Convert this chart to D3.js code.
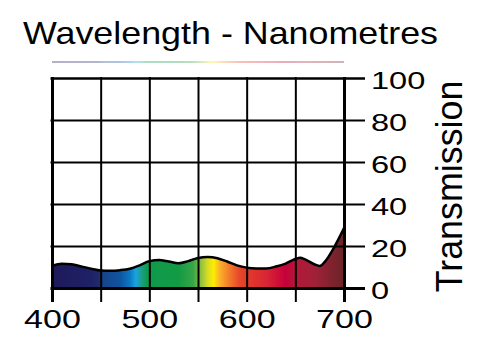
<!DOCTYPE html>
<html>
<head>
<meta charset="utf-8">
<script src="https://cdn.jsdelivr.net/npm/d3@7"></script>
<style>
  body { margin: 0; background: #fff; }
  text { font-family: "Liberation Sans", Arial, Helvetica, sans-serif; fill: #000; }
</style>
</head>
<body>
<div id="chart"></div>
<script>
// transmission curve
const wavelengths = [400, 410, 420, 430, 440, 450, 460, 470, 480, 490, 500, 510, 520, 530, 540, 550,
                     560, 570, 580, 590, 600, 610, 620, 630, 640, 650, 655, 660, 670, 675, 680, 690, 700];
const transmission = [10.5, 11.6, 11.3, 10.3, 9.2, 8.3, 8.2, 8.5, 9.2, 10.8, 12.8, 13.3, 12.6, 11.8, 12.8, 14.3,
                      14.8, 14.2, 12.6, 10.8, 9.7, 9.3, 9.3, 10.2, 11.6, 13.8, 14.4, 13.6, 11.2, 10.5, 12.3, 19.5, 28.5];

const xTicks = [400, 450, 500, 550, 600, 650, 700];
const yTicks = [0, 20, 40, 60, 80, 100];

// spectrum colours under the curve
const stopNm = [400, 440, 448, 452, 470, 480, 486, 492, 498, 530, 545, 553, 560, 566, 572, 582, 592, 600, 620, 640, 650, 670, 700];
const stopColors = ["#1d1a5a", "#1f2166", "#1e2a6c", "#17448a", "#0f559f", "#0b78c4", "#1aa3e2", "#1b9f86",
                    "#0f9a4c", "#129b45", "#37a547", "#8fc23c", "#d7dc25", "#ffec00", "#fbb32b", "#f27b29",
                    "#e8492a", "#e33b2a", "#d92634", "#c6003b", "#b51839", "#9f2138", "#6a2427"];

const W = 500, H = 352;
const svg = d3.select("#chart").append("svg")
    .attr("width", W)
    .attr("height", H);

const x = d3.scaleLinear().domain([400, 700]).range([52, 344]);
const y = d3.scaleLinear().domain([0, 100]).range([288, 78]);

const data = wavelengths.map((w, i) => ({ w: w, t: transmission[i] }));

// gradient
const grad = svg.append("defs").append("linearGradient")
    .attr("id", "spectrum")
    .attr("gradientUnits", "userSpaceOnUse")
    .attr("x1", x(400)).attr("x2", x(700))
    .attr("y1", 0).attr("y2", 0);
grad.selectAll("stop")
    .data(stopNm)
    .join("stop")
    .attr("offset", d => (d - 400) / 300)
    .attr("stop-color", (d, i) => stopColors[i]);

// title + faded spectrum line
svg.append("text")
    .attr("x", 23)
    .attr("y", 44)
    .attr("font-size", 32)
    .attr("textLength", 415)
    .attr("lengthAdjust", "spacingAndGlyphs")
    .text("Wavelength - Nanometres");

svg.append("line")
    .attr("x1", x(400)).attr("x2", x(700))
    .attr("y1", 62).attr("y2", 62)
    .attr("stroke", "url(#spectrum)")
    .attr("stroke-opacity", 0.45)
    .attr("stroke-width", 1.5);

// area fill
const area = d3.area()
    .x(d => x(d.w))
    .y0(y(0))
    .y1(d => y(d.t))
    .curve(d3.curveMonotoneX);

svg.append("path")
    .datum(data)
    .attr("d", area)
    .attr("fill", "url(#spectrum)");

// vertical grid + bottom labels
const gx = svg.append("g")
    .attr("transform", "translate(0,77)")
    .call(d3.axisBottom(x)
        .tickValues(xTicks)
        .tickSize(225)
        .tickPadding(8)
        .tickFormat(d => d % 100 === 0 ? d : ""));
gx.select(".domain").remove();
gx.selectAll(".tick line")
    .attr("stroke", "#000")
    .attr("stroke-width", d => (d === 400 || d === 700) ? 3 : 2);
gx.selectAll(".tick text")
    .attr("font-size", 26)
    .attr("font-family", null)
    .attr("transform", "scale(1.31,1)");

// horizontal grid + right labels
const gy = svg.append("g")
    .attr("transform", "translate(50.5,0)")
    .call(d3.axisRight(y)
        .tickValues(yTicks)
        .tickSize(314.5)
        .tickPadding(6));
gy.select(".domain").remove();
gy.selectAll(".tick line")
    .attr("stroke", "#000")
    .attr("stroke-width", d => d === 0 ? 3 : (d === 100 ? 2.5 : 2));
gy.selectAll(".tick text")
    .attr("font-size", 24.5)
    .attr("font-family", null)
    .attr("x", null)
    .attr("dy", null)
    .attr("transform", "translate(320.5,10.5) scale(1.33,1)");

// curve outline
const line = d3.line()
    .x(d => x(d.w))
    .y(d => y(d.t))
    .curve(d3.curveMonotoneX);

svg.append("path")
    .datum(data)
    .attr("d", line)
    .attr("fill", "none")
    .attr("stroke", "#000")
    .attr("stroke-width", 2.5);

// axis title
svg.append("text")
    .attr("transform", "translate(462,186.5) rotate(-90) scale(1.28,1.35)")
    .attr("text-anchor", "middle")
    .attr("font-size", 28)
    .text("Transmission");
</script>
</body>
</html>
